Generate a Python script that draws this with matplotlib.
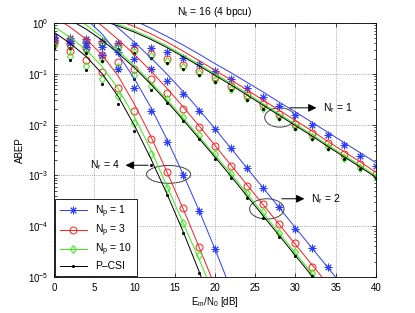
import numpy as np
import matplotlib
matplotlib.use("Agg")
import matplotlib.pyplot as plt
from matplotlib.lines import Line2D
from matplotlib.patches import Ellipse
from matplotlib.ticker import LogLocator, NullFormatter

plt.rcParams['font.family'] = ['Liberation Sans', 'DejaVu Sans']
plt.rcParams['mathtext.fontset'] = 'custom'
plt.rcParams['mathtext.rm'] = 'Liberation Sans'
plt.rcParams['mathtext.it'] = 'Liberation Sans:italic'

# SNR grid (dB), markers every 2 dB
snr = np.arange(0, 41, 2)

# --- simulation points, log10(ABEP) ---
# Nr = 4
nr4_np1_sim = [-0.33, -0.40, -0.48, -0.62, -0.90, -1.28, -1.73, -2.35, -2.99, -3.70, -4.45]
nr4_np3_sim = [-0.40, -0.55, -0.72, -0.96, -1.27, -1.74, -2.28, -2.94, -3.64, -4.40]
nr4_np10_sim = [-0.45, -0.64, -0.84, -1.10, -1.43, -1.97, -2.58, -3.25, -3.93, -4.57]
nr4_pcsi_sim = [-0.50, -0.72, -0.93, -1.20, -1.59, -2.12, -2.80, -3.39, -4.13, -4.92]
# Nr = 2
nr2_np1_sim = [-0.30, -0.35, -0.40, -0.48, -0.58, -0.70, -0.91, -1.14, -1.40, -1.73, -2.08,
               -2.47, -2.86, -3.25, -3.63, -4.06, -4.42, -4.80]
nr2_np3_sim = [-0.36, -0.42, -0.50, -0.62, -0.76, -0.91, -1.10, -1.37, -1.70, -2.04, -2.42,
               -2.81, -3.20, -3.56, -3.96, -4.34, -4.80]
nr2_np10_sim = [-0.40, -0.47, -0.56, -0.70, -0.86, -1.03, -1.24, -1.50, -1.85, -2.20, -2.58,
                -2.97, -3.35, -3.73, -4.14, -4.51, -4.93]
nr2_pcsi_sim = [-0.43, -0.50, -0.60, -0.74, -0.92, -1.10, -1.32, -1.57, -1.93, -2.29, -2.67,
                -3.05, -3.44, -3.83, -4.22, -4.59, -4.98]
# Nr = 1
nr1_np1_sim = [-0.28, -0.30, -0.32, -0.35, -0.39, -0.43, -0.50, -0.58, -0.68, -0.80, -0.94,
               -1.10, -1.27, -1.45, -1.63, -1.81, -2.01, -2.21, -2.41, -2.61, -2.81]
nr1_np3_sim = [-0.31, -0.33, -0.36, -0.40, -0.46, -0.53, -0.61, -0.71, -0.82, -0.94, -1.07,
               -1.24, -1.42, -1.60, -1.79, -1.98, -2.17, -2.37, -2.57, -2.77, -2.97]
nr1_np10_sim = [-0.33, -0.35, -0.39, -0.43, -0.49, -0.57, -0.65, -0.75, -0.86, -0.99, -1.12,
                -1.29, -1.48, -1.67, -1.86, -2.05, -2.25, -2.45, -2.65, -2.85, -3.04]
nr1_pcsi_sim = [-0.36, -0.38, -0.41, -0.45, -0.52, -0.60, -0.68, -0.78, -0.90, -1.02, -1.155,
                -1.32, -1.51, -1.70, -1.89, -2.08, -2.28, -2.48, -2.67, -2.87, -3.06]

# --- analytical curves, log10(ABEP) ---
nr4_np1_ana = [0.45, 0.30, 0.08, -0.22, -0.62, -1.10, -1.65, -2.28, -2.96, -3.68, -4.45, -5.25]
nr4_np3_ana = [0.12, -0.08, -0.32, -0.63, -1.05, -1.60, -2.22, -2.92, -3.64, -4.40, -5.18]
nr4_np10_ana = [-0.07, -0.28, -0.53, -0.86, -1.30, -1.85, -2.48, -3.20, -3.92, -4.64, -5.40]
nr4_pcsi_ana = [-0.18, -0.40, -0.66, -1.00, -1.45, -2.02, -2.66, -3.35, -4.09, -4.88, -5.70]

nr2_np1_ana = [0.78, 0.60, 0.39, 0.16, -0.10, -0.38, -0.68, -1.00, -1.34, -1.70, -2.08,
               -2.47, -2.86, -3.25, -3.64, -4.03, -4.42, -4.81, -5.20]
nr2_np3_ana = [0.55, 0.38, 0.18, -0.06, -0.33, -0.62, -0.94, -1.28, -1.64, -2.02, -2.41,
               -2.80, -3.19, -3.58, -3.97, -4.36, -4.75, -5.14]
nr2_np10_ana = [0.33, 0.16, -0.04, -0.28, -0.55, -0.84, -1.16, -1.50, -1.86, -2.23, -2.60,
                -2.97, -3.36, -3.75, -4.14, -4.53, -4.92, -5.31]
nr2_pcsi_ana = [0.22, 0.06, -0.12, -0.34, -0.60, -0.88, -1.20, -1.54, -1.90, -2.27, -2.64,
                -3.02, -3.41, -3.80, -4.19, -4.58, -4.97, -5.36]

nr1_np1_ana = [0.65, 0.55, 0.44, 0.32, 0.19, 0.05, -0.10, -0.26, -0.43, -0.61, -0.80,
               -0.98, -1.17, -1.36, -1.56, -1.75, -1.95, -2.15, -2.35, -2.55, -2.75]
nr1_np3_ana = [0.45, 0.36, 0.26, 0.15, 0.05, -0.07, -0.21, -0.37, -0.55, -0.74, -0.93,
               -1.12, -1.32, -1.52, -1.72, -1.92, -2.12, -2.33, -2.53, -2.73, -2.94]
nr1_np10_ana = [0.35, 0.27, 0.17, 0.08, -0.03, -0.15, -0.29, -0.45, -0.63, -0.81, -1.00,
                -1.19, -1.39, -1.59, -1.79, -1.99, -2.19, -2.40, -2.60, -2.80, -3.01]
nr1_pcsi_ana = [0.32, 0.24, 0.15, 0.05, -0.06, -0.18, -0.32, -0.48, -0.66, -0.84, -1.03,
                -1.22, -1.42, -1.62, -1.82, -2.02, -2.22, -2.43, -2.63, -2.83, -3.04]

labels = ["N$_\\mathrm{p}$ = 1", "N$_\\mathrm{p}$ = 3", "N$_\\mathrm{p}$ = 10", "P\u2013CSI"]
colors = ["#2b3cff", "#ff1a1a", "#33ee11", "k"]
markers = [(8, 2, 0), "o", "d", "."]
msizes = [5.5, 5, 4.5, 3]

sim_sets = [
    [nr1_np1_sim, nr1_np3_sim, nr1_np10_sim, nr1_pcsi_sim],
    [nr2_np1_sim, nr2_np3_sim, nr2_np10_sim, nr2_pcsi_sim],
    [nr4_np1_sim, nr4_np3_sim, nr4_np10_sim, nr4_pcsi_sim],
]
ana_sets = [
    [nr1_np1_ana, nr1_np3_ana, nr1_np10_ana, nr1_pcsi_ana],
    [nr2_np1_ana, nr2_np3_ana, nr2_np10_ana, nr2_pcsi_ana],
    [nr4_np1_ana, nr4_np3_ana, nr4_np10_ana, nr4_pcsi_ana],
]

fig = plt.figure(figsize=(4.15, 3.13), dpi=100)
ax = fig.add_axes([0.130, 0.115, 0.776, 0.8115])

for sims, anas in zip(sim_sets, ana_sets):
    for k in range(4):
        a = np.array(anas[k])
        ax.plot(snr[:len(a)], 10.0 ** a, color=colors[k], lw=0.7)
        s = np.array(sims[k])
        ax.plot(snr[:len(s)], 10.0 ** s, ls='none', marker=markers[k],
                ms=msizes[k], mfc='none' if k in (1, 2) else colors[k],
                mec=colors[k], mew=0.7)

ax.set_yscale('log')
ax.set_xlim(0, 40)
ax.set_ylim(1e-5, 1)
ax.set_xticks(np.arange(0, 41, 5))
ax.yaxis.set_minor_locator(LogLocator(base=10, subs=np.arange(2, 10), numticks=20))
ax.yaxis.set_minor_formatter(NullFormatter())
ax.tick_params(which='both', direction='in', top=True, right=True, labelsize=7, width=0.5)
ax.tick_params(which='major', length=3, pad=4)
ax.tick_params(which='minor', length=1.8)
ax.grid(True, which='major', ls=':', color='0.55', lw=0.6)
for sp in ax.spines.values():
    sp.set_linewidth(0.6)

ax.set_xlabel("E$_\\mathrm{m}$/N$_0$ [dB]", fontsize=7, labelpad=2)
ax.set_ylabel("ABEP", fontsize=7, labelpad=2)
ax.set_title("N$_\\mathrm{t}$ = 16 (4 bpcu)", fontsize=7.5, pad=6)

# ellipses + arrows marking each receive-antenna group (axes fraction)
ell_centers = [(0.701, 0.628), (0.661, 0.268), (0.356, 0.404)]
ell_sizes = [(0.093, 0.076), (0.107, 0.080), (0.137, 0.070)]
for c, (w, h) in zip(ell_centers, ell_sizes):
    ax.add_patch(Ellipse(c, w, h, transform=ax.transAxes, fill=False,
                         ec='0.25', lw=0.7))

arrow_text = ["N$_\\mathrm{r}$ = 1", "N$_\\mathrm{r}$ = 2", "N$_\\mathrm{r}$ = 4"]
arrow_tail = [(29.3, 10 ** -1.67), (28.3, 10 ** -3.46), (11.7, 10 ** -2.80)]
arrow_head = [(32.6, 10 ** -1.67), (31.1, 10 ** -3.46), (8.9, 10 ** -2.80)]
text_pos = [(33.4, 10 ** -1.67, 'left'), (31.9, 10 ** -3.46, 'left'), (8.2, 10 ** -2.80, 'right')]
for t, tail, head, tp in zip(arrow_text, arrow_tail, arrow_head, text_pos):
    ax.annotate("", xy=head, xytext=tail,
                arrowprops=dict(arrowstyle='-|>', color='k', lw=0.7,
                                mutation_scale=12, shrinkA=0, shrinkB=0))
    ax.text(tp[0], tp[1], t, fontsize=7.5, ha=tp[2], va='center')

handles = [Line2D([], [], color=colors[k], lw=0.7, marker=markers[k], ms=msizes[k],
                  mfc='none' if k in (1, 2) else colors[k], mec=colors[k], mew=0.7)
           for k in range(4)]
leg = ax.legend(handles, labels, loc='lower left', fontsize=7.5, frameon=True,
                fancybox=False, edgecolor='k', framealpha=1, handlelength=2.6,
                labelspacing=0.28, borderaxespad=0.1, borderpad=0.45, handletextpad=0.8)
leg.get_frame().set_linewidth(0.6)

fig.savefig("out.png", dpi=100)
